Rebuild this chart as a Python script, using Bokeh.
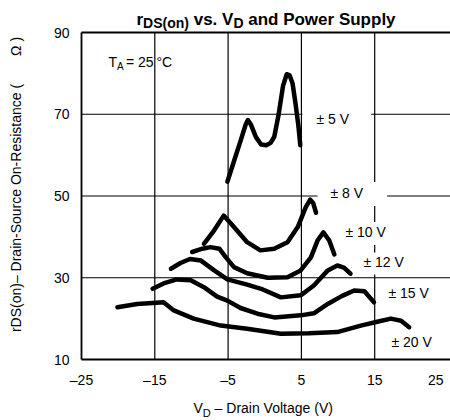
import math
from bokeh.plotting import figure
from bokeh.models import Range1d, FixedTicker, Label
from bokeh.embed import file_html
from bokeh.resources import INLINE

FONT = "Liberation Sans"

# ---- data ----
x_ticks = [-25, -15, -5, 5, 15, 25]
x_tick_labels = ["\u201325", "\u201315", "\u20135", "5", "15", "25\u2002"]
y_ticks = [10, 30, 50, 70, 90]
x_grid = [-15, -5, 5, 15]
y_grid = [30, 50, 70]
x_edges = [-25]
y_edges = [10, 90]

v5_x = [-5.1, -4.2, -3.3, -2.6, -2.3, -1.9, -1.2, -0.5, 0.2, 0.8, 1.3, 1.9, 2.5, 3.0, 3.4, 3.8, 4.2, 4.6, 4.85]
v5_y = [53.5, 58.5, 63.5, 67.5, 68.6, 67.5, 64.4, 62.6, 62.4, 63.0, 64.5, 70.0, 77.0, 79.8, 79.5, 77.5, 72.6, 67.0, 62.4]

v8_x = [-8.3, -6.9, -5.6, -4.2, -2.4, -0.6, 1.3, 3.1, 4.5, 5.6, 6.2, 6.6, 7.0]
v8_y = [38.3, 41.6, 45.2, 42.4, 38.7, 36.7, 37.1, 38.7, 42.4, 47.3, 49.1, 48.3, 45.9]

v10_x = [-9.9, -8.5, -7.4, -6.2, -5.3, -4.2, -2.4, 0.4, 3.1, 4.9, 6.3, 7.2, 8.0, 8.8, 9.5]
v10_y = [36.3, 37.1, 37.5, 37.1, 35.0, 32.6, 31.1, 30.0, 30.1, 31.8, 35.0, 39.1, 41.1, 39.1, 35.7]

v12_x = [-12.8, -11.5, -10.2, -8.7, -6.9, -5.1, -2.4, -0.5, 2.2, 4.9, 6.7, 8.6, 9.9, 10.8, 11.7]
v12_y = [32.2, 33.6, 34.6, 34.2, 31.8, 29.6, 28.3, 27.3, 25.2, 25.7, 28.1, 31.8, 33.0, 32.5, 31.0]

v15_x = [-15.3, -13.8, -12.0, -10.1, -8.3, -6.5, -5.1, -3.3, -1.0, 1.3, 4.9, 6.7, 8.6, 10.5, 12.2, 13.6, 14.9]
v15_y = [27.3, 28.6, 29.6, 29.4, 27.7, 25.4, 24.4, 22.6, 21.2, 20.3, 20.8, 21.3, 23.6, 25.5, 26.9, 26.7, 24.0]

v20_x = [-20.1, -17.4, -13.8, -12.4, -9.7, -6.0, -2.4, 2.2, 6.0, 9.9, 13.1, 15.5, 17.2, 18.6, 19.7]
v20_y = [22.8, 23.6, 24.0, 22.0, 20.0, 18.3, 17.5, 16.3, 16.4, 16.7, 18.3, 19.3, 20.0, 19.5, 17.9]

series_x = [v5_x, v8_x, v10_x, v12_x, v15_x, v20_x]
series_y = [v5_y, v8_y, v10_y, v12_y, v15_y, v20_y]
series_names = ["\u00b1 5 V", "\u00b1 8 V", "\u00b1 10 V", "\u00b1 12 V", "\u00b1 15 V", "\u00b1 20 V"]

# ---- layout: the frame fills the canvas; the drawn box sits at these pixels ----
W, H = 450, 420
X0, X1, Y0, Y1 = -25, 25, 10, 90
BOX_L, BOX_R, BOX_T, BOX_B = 81, 447.5, 32, 359
KX = (BOX_R - BOX_L) / (X1 - X0)
KY = (BOX_B - BOX_T) / (Y1 - Y0)
XS, XE = X0 - BOX_L / KX, X1 + (W - BOX_R) / KX
YE, YS = Y1 + BOX_T / KY, Y0 - (H - BOX_B) / KY


def px2x(px):
    return XS + px / KX


def px2y(py):
    return YE - py / KY


p = figure(width=W, height=H, output_backend="svg", toolbar_location=None,
           x_range=Range1d(XS, XE), y_range=Range1d(YS, YE),
           min_border_left=0, min_border_right=0, min_border_top=0, min_border_bottom=0)
p.background_fill_color = "white"
p.border_fill_color = "white"
p.outline_line_color = None
p.xgrid.visible = False
p.ygrid.visible = False

# grid lines limited to the chart box
p.segment(x0=x_grid, y0=[Y0] * len(x_grid), x1=x_grid, y1=[Y1] * len(x_grid),
          line_color="black", line_width=1.2)
p.segment(x0=[X0] * len(y_grid), y0=y_grid, x1=[XE] * len(y_grid), y1=y_grid,
          line_color="black", line_width=1.2)
# box edges (slightly heavier)
p.segment(x0=x_edges, y0=[Y0] * len(x_edges), x1=x_edges, y1=[Y1] * len(x_edges),
          line_color="black", line_width=1.8)
p.segment(x0=[X0] * len(y_edges), y0=y_edges, x1=[XE] * len(y_edges), y1=y_edges,
          line_color="black", line_width=1.8)

p.xaxis.ticker = FixedTicker(ticks=x_ticks)
p.xaxis.major_label_overrides = {t: s for t, s in zip(x_ticks, x_tick_labels)}
p.xaxis.fixed_location = Y0
p.yaxis.ticker = FixedTicker(ticks=y_ticks)
p.yaxis.fixed_location = X0
for ax in (p.xaxis, p.yaxis):
    ax.axis_line_color = None
    ax.major_tick_line_color = None
    ax.minor_tick_line_color = None
    ax.major_tick_out = 0
    ax.major_tick_in = 0
    ax.major_label_text_font = FONT
    ax.major_label_text_font_size = "14px"
    ax.major_label_text_color = "black"
    ax.major_label_standoff = 12

for xs, ys in zip(series_x, series_y):
    p.line(xs, ys, line_color="black", line_width=4.5, line_cap="round", line_join="round")

# observed offset of rendered text below the requested baseline, per px of font size
DROP = 0.36

# curve labels (text left x, text baseline y in pixels) with white boxes
lab_px = [(316, 125), (330, 200), (345, 239), (363, 269), (388, 299), (391, 348)]
lab_pad = [dict(left=14, right=22, top=3, bottom=3),
           dict(left=13, right=24, top=3, bottom=5),
           dict(left=3, right=3, top=2, bottom=5),
           dict(left=3, right=3, top=2, bottom=4),
           dict(left=2, right=2, top=2, bottom=2),
           dict(left=2, right=2, top=2, bottom=2)]
for name, (lx, ly), pad in zip(series_names, lab_px, lab_pad):
    ax_px = lx - pad["left"]
    ay_px = ly - 14 * DROP - pad["top"] * 0.5
    p.add_layout(Label(x=px2x(ax_px), y=px2y(ay_px), text=name, text_font=FONT,
                       text_font_size="14px", text_color="black",
                       text_align="left", text_baseline="alphabetic",
                       background_fill_color="white", padding=pad))


def txt(text, px, py, fs, bold=False, angle=0.0, align="left", baseline="alphabetic"):
    shift = fs * DROP if baseline == "alphabetic" else 0.0
    p.add_layout(Label(x=px2x(px), y=px2y(py - shift), text=text, text_font=FONT,
                       text_font_size=f"{fs}px", text_color="black",
                       text_font_style="bold" if bold else "normal",
                       angle=angle, text_align=align, text_baseline=baseline))


# T_A = 25 °C
txt("T", 108, 67, 14)
txt("A", 116.5, 70, 10)
txt("= 25\u2009\u00b0C", 125.5, 67, 14)

# title
txt("r", 136, 25, 17, bold=True)
txt("DS(on)", 142.6, 28, 14, bold=True)
txt("vs. V", 193.2, 25, 17, bold=True)
txt("D", 232.9, 28, 14, bold=True)
txt("and Power Supply", 247.7, 25, 17, bold=True)

# x axis title
txt("V", 193, 413, 14)
txt("D", 202.3, 416, 11)
txt("\u2013 Drain Voltage (V)", 214.1, 413, 14)

# y axis title
txt("rDS(on)\u2013 Drain-Source On-Resistance (\u2003\u2003\u03a9 )", 15, 184, 14,
    angle=math.pi / 2, align="center", baseline="middle")

open("out.html", "w").write(file_html(p, INLINE))
